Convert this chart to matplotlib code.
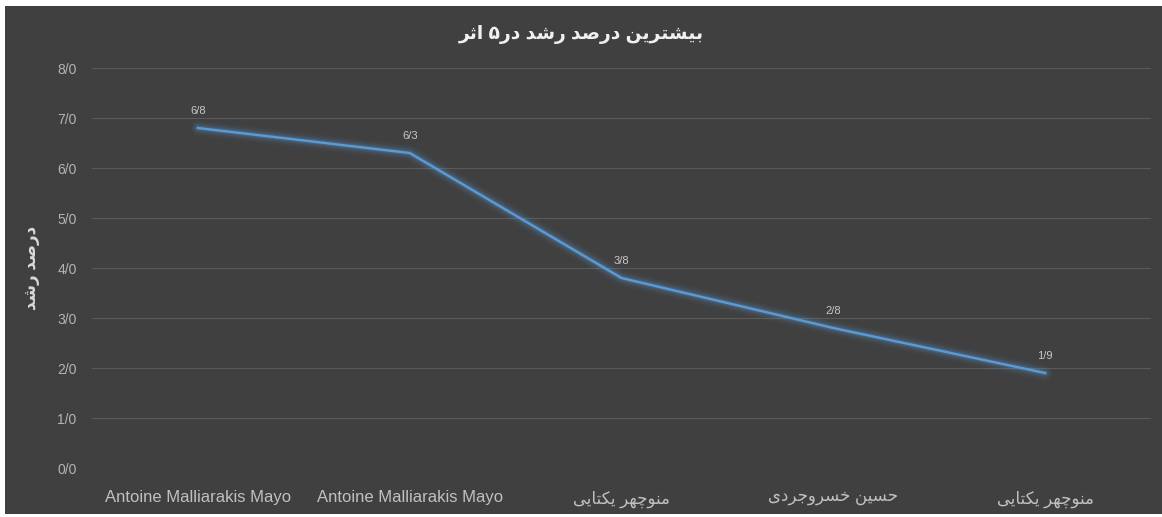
import matplotlib
matplotlib.use("Agg")
import matplotlib.pyplot as plt
from matplotlib.patches import Rectangle

# --- data -------------------------------------------------------------
categories = ["Antoine Malliarakis Mayo", "Antoine Malliarakis Mayo",
              "منوچهر یکتایی", "حسین خسروجردی", "منوچهر یکتایی"]
growth = [6.8, 6.3, 3.8, 2.8, 1.9]
yticks = [0, 1, 2, 3, 4, 5, 6, 7, 8]
title = "بیشترین درصد رشد در۵ اثر"
ylabel = "درصد رشد"

# --- tiny persian shaper (matplotlib does no arabic shaping / bidi) ---
FORMS = {  # isolated, final, initial, medial
    "ا": ("\uFE8D", "\uFE8E"), "د": ("\uFEA9", "\uFEAA"),
    "ر": ("\uFEAD", "\uFEAE"), "و": ("\uFEED", "\uFEEE"),
    "ب": ("\uFE8F", "\uFE90", "\uFE91", "\uFE92"),
    "ت": ("\uFE95", "\uFE96", "\uFE97", "\uFE98"),
    "ث": ("\uFE99", "\uFE9A", "\uFE9B", "\uFE9C"),
    "ج": ("\uFE9D", "\uFE9E", "\uFE9F", "\uFEA0"),
    "ح": ("\uFEA1", "\uFEA2", "\uFEA3", "\uFEA4"),
    "خ": ("\uFEA5", "\uFEA6", "\uFEA7", "\uFEA8"),
    "س": ("\uFEB1", "\uFEB2", "\uFEB3", "\uFEB4"),
    "ش": ("\uFEB5", "\uFEB6", "\uFEB7", "\uFEB8"),
    "ص": ("\uFEB9", "\uFEBA", "\uFEBB", "\uFEBC"),
    "م": ("\uFEE1", "\uFEE2", "\uFEE3", "\uFEE4"),
    "ن": ("\uFEE5", "\uFEE6", "\uFEE7", "\uFEE8"),
    "ه": ("\uFEE9", "\uFEEA", "\uFEEB", "\uFEEC"),
    "ی": ("\uFBFC", "\uFBFD", "\uFBFE", "\uFBFF"),
    "چ": ("\uFB7A", "\uFB7B", "\uFB7C", "\uFB7D"),
    "ک": ("\uFB8E", "\uFB8F", "\uFB90", "\uFB91"),
}


def fa(s):
    out = []
    for i, c in enumerate(s):
        if c not in FORMS:
            out.append(c)
            continue
        prev = s[i - 1] if i > 0 else ""
        nxt = s[i + 1] if i + 1 < len(s) else ""
        join_prev = prev in FORMS and len(FORMS[prev]) == 4
        join_next = len(FORMS[c]) == 4 and nxt in FORMS
        f = FORMS[c]
        if join_prev and join_next:
            out.append(f[3])
        elif join_prev:
            out.append(f[1])
        elif join_next:
            out.append(f[2])
        else:
            out.append(f[0])
    return "".join(out)[::-1]


def label(s):
    return fa(s) if any(ch in FORMS for ch in s) else s


def pnum(v):
    return ("%.1f" % v).replace(".", "/")


# --- style ------------------------------------------------------------
plt.rcParams['font.family'] = ['Liberation Sans', 'DejaVu Sans']
bg = "#404040"
line_c = "#5B9BD5"

fig = plt.figure(figsize=(11.62, 5.17), dpi=100)
fig.patch.set_facecolor("white")
fig.patches.append(Rectangle((5 / 1162, 3 / 517), 1, 1 - 9 / 517,
                             transform=fig.transFigure, facecolor=bg,
                             edgecolor="none", zorder=-5))

ax = fig.add_axes([92 / 1162, 1 - 468 / 517, 1059 / 1162, 400 / 517])
ax.set_facecolor(bg)
x = list(range(len(categories)))

# glow
for w, a in [(11, 0.05), (8, 0.08), (5.5, 0.12), (3.5, 0.18)]:
    ax.plot(x, growth, color=line_c, lw=w, alpha=a, solid_capstyle="round")
ax.plot(x, growth, color=line_c, lw=1.7)

for xi, v in zip(x, growth):
    ax.annotate(pnum(v), (xi, v), xytext=(0, 12.5), textcoords="offset points",
                ha="center", va="center", fontsize=8, color="#c8c8c8")

ax.set_xlim(-0.5, len(categories) - 0.5)
ax.set_ylim(0, 8)
ax.set_yticks(yticks)
ax.set_yticklabels([pnum(t) for t in yticks], color="#b4b4b4", fontsize=10)
ax.set_xticks(x)
ax.set_xticklabels([label(c) for c in categories], color="#c0c0c0", fontsize=12)
ax.tick_params(length=0)
ax.tick_params(axis="x", pad=16)
ax.tick_params(axis="y", pad=11)
ax.grid(axis="y", color="#5a5a5a", lw=0.8)
ax.set_axisbelow(True)
for s in ax.spines.values():
    s.set_visible(False)

ax.set_ylabel(fa(ylabel), color="#d9d9d9", fontsize=12, fontweight="bold", labelpad=6)
ax.yaxis.set_label_coords(-52 / 1059, 0.5)
fig.text(0.5, 1 - 35 / 517, fa(title), ha="center", va="center",
         fontsize=13.5, fontweight="bold", color="#f0f0f0")

fig.savefig("out.png", dpi=100, facecolor=fig.get_facecolor())
